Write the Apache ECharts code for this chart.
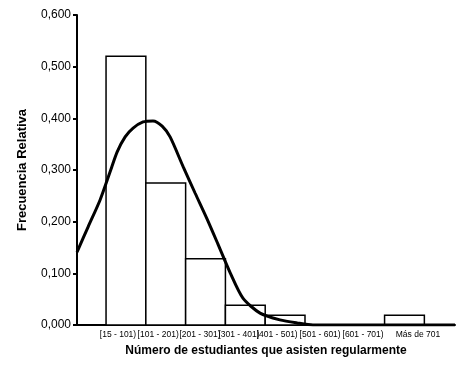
<!DOCTYPE html>
<html>
<head>
<meta charset="utf-8">
<script src="https://cdn.jsdelivr.net/npm/echarts@6/dist/echarts.min.js"></script>
<style>
  html, body { margin: 0; padding: 0; background: #fff; }
  #chart { width: 475px; height: 383px; }
</style>
</head>
<body>
<div id="chart"></div>
<script>
// categorías del histograma
var categorias = ["[15 - 101)", "[101 - 201)", "[201 - 301)", "[301 - 401)", "[401 - 501)", "[501 - 601)", "[601 - 701)", "Más de 701"];
// frecuencia relativa de cada clase
var frecuencias = [0.520, 0.275, 0.128, 0.038, 0.019, 0, 0, 0.019];
// dónde caen las etiquetas de clase (x en unidades de clase)
var posEtiquetas = [0.30, 1.31, 2.36, 3.34, 4.30, 5.38, 6.46, 7.84];
// curva normal (x en unidades de clase)
var curvaX = [-0.73, -0.45, -0.15, 0.10, 0.28, 0.48, 0.68, 0.93, 1.18, 1.41, 1.61, 1.94, 2.24, 2.54, 2.81, 3.12, 3.44, 3.87, 4.37, 4.80, 5.20, 8.77];
var curvaY = [0.141, 0.190, 0.242, 0.296, 0.335, 0.364, 0.381, 0.393, 0.395, 0.385, 0.364, 0.306, 0.255, 0.205, 0.157, 0.101, 0.052, 0.023, 0.010, 0.004, 0.000, 0.000];

var chart = echarts.init(document.getElementById("chart"));

var barras = frecuencias.map(function (v, i) { return [i, v]; });
var curva = curvaX.map(function (x, i) { return [x, curvaY[i]]; });

var option = {
  animation: false,
  backgroundColor: "#fff",
  grid: { left: 77, right: 20, top: 15, bottom: 58 },
  xAxis: {
    type: "value",
    min: -0.73,
    max: 8.77,
    name: "Número de estudiantes que asisten regularmente",
    nameLocation: "middle",
    nameGap: 20,
    nameTextStyle: { fontFamily: "Liberation Sans", fontWeight: "bold", fontSize: 12, color: "#000" },
    axisLine: { lineStyle: { color: "#000", width: 2 } },
    axisTick: { show: false },
    splitLine: { show: false },
    axisLabel: {
      customValues: posEtiquetas,
      hideOverlap: false,
      showMinLabel: true,
      showMaxLabel: true,
      fontFamily: "Liberation Sans",
      fontSize: 8.5,
      color: "#000",
      margin: 5,
      formatter: function (v) { return categorias[Math.floor(v)]; }
    }
  },
  yAxis: {
    type: "value",
    min: 0,
    max: 0.6,
    interval: 0.1,
    name: "Frecuencia Relativa",
    nameLocation: "middle",
    nameRotate: 90,
    nameGap: 48,
    nameTextStyle: { fontFamily: "Liberation Sans", fontWeight: "bold", fontSize: 13, color: "#000" },
    axisLine: { show: true, onZero: false, lineStyle: { color: "#000", width: 2 } },
    axisTick: { show: true, length: 4, lineStyle: { color: "#000", width: 2 } },
    splitLine: { show: false },
    axisLabel: {
      fontFamily: "Liberation Sans",
      fontSize: 12,
      color: "#000",
      margin: 6,
      formatter: function (v) { return v.toFixed(3).replace(".", ","); }
    }
  },
  series: [
    {
      type: "custom",
      data: barras,
      renderItem: function (params, api) {
        var i = api.value(0), v = api.value(1);
        if (!v) return null;
        var p0 = api.coord([i, v]);
        var p1 = api.coord([i + 1, 0]);
        return {
          type: "rect",
          shape: { x: p0[0], y: p0[1], width: p1[0] - p0[0], height: p1[1] - p0[1] },
          style: { fill: "#fff", stroke: "#000", lineWidth: 1.5 }
        };
      },
      z: 1
    },
    {
      type: "line",
      data: curva,
      smooth: 0.25,
      symbol: "none",
      lineStyle: { color: "#000", width: 3 },
      z: 3
    }
  ]
};
chart.setOption(option);
</script>
</body>
</html>
